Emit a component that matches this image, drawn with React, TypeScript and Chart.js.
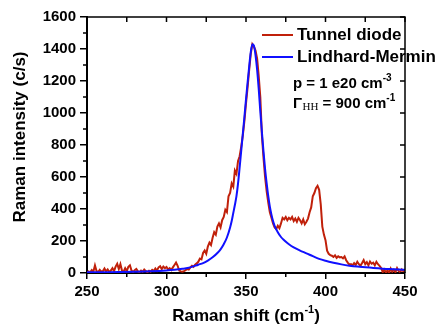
import { useEffect, useRef } from 'react';
import { Chart, registerables } from 'chart.js';

Chart.register(...registerables);

// ---- Data ----
const redShift = [
  250, 251, 252, 253, 254, 255, 256, 257, 258, 259,
  260, 261, 262, 263, 264, 265, 266, 267, 268, 269,
  270, 271, 272, 273, 274, 275, 276, 277, 278, 279,
  280, 281, 282, 283, 284, 285, 286, 287, 288, 289,
  290, 291, 292, 293, 294, 295, 296, 297, 298, 299,
  300, 301, 302, 303, 304, 305, 306, 307, 308, 309,
  310, 311, 312, 313, 314, 315, 316, 317, 318, 319,
  320, 321, 322, 323, 324, 325, 326, 327, 328, 329,
  330, 331, 332, 333, 334, 335, 336, 337, 338, 339,
  340, 341, 342, 343, 344, 345, 346, 347, 348, 349,
  350, 351, 352, 353, 354, 355, 356, 357, 358, 359,
  360, 361, 362, 363, 364, 365, 366, 367, 368, 369,
  370, 371, 372, 373, 374, 375, 376, 377, 378, 379,
  380, 381, 382, 383, 384, 385, 386, 387, 388, 389,
  390, 391, 392, 393, 394, 395, 396, 397, 398, 399,
  400, 401, 402, 403, 404, 405, 406, 407, 408, 409,
  410, 411, 412, 413, 414, 415, 416, 417, 418, 419,
  420, 421, 422, 423, 424, 425, 426, 427, 428, 429,
  430, 431, 432, 433, 434, 435, 436, 437, 438, 439,
  440, 441, 442, 443, 444, 445, 446, 447, 448, 449,
  450,
];

const redIntensity = [
  5, 10, 4, 18, 8, 48, 12, 6, 20, 8,
  12, 28, 10, 22, 6, 15, 30, 12, 40, 58,
  25, 55, 15, 8, 30, 12, 38, 48, 15, 6,
  18, 25, 10, 5, 15, 8, 22, 12, 5, 14,
  8, 20, 12, 28, 15, 35, 42, 25, 40, 30,
  38, 22, 30, 18, 35, 50, 65, 45, 15, 10,
  8, 12, 18, 25, 22, 35, 45, 38, 52, 60,
  70, 90, 85, 125, 140, 120, 165, 190, 175, 220,
  255, 240, 290, 310, 285, 330, 350, 395, 380, 480,
  500, 560, 540, 640, 620, 700, 730, 790, 860, 950,
  1060, 1160, 1270, 1370, 1430, 1415, 1390, 1340, 1230, 1100,
  860, 720, 600, 510, 440, 380, 345, 310, 285, 275,
  295, 280, 310, 345, 335, 350, 330, 345, 335, 350,
  325, 340, 320, 345, 330, 310, 335, 305, 320, 340,
  380, 410, 480, 500, 530, 545, 520, 430, 290, 240,
  205, 140, 120, 112, 108, 100, 110, 95, 105, 98,
  100, 92, 104, 80, 65, 52, 55, 48, 62, 50,
  70, 55, 45, 62, 80, 55, 68, 48, 72, 58,
  65, 48, 70, 55, 45, 32, 5, 22, 2, 18,
  0, 28, 8, 20, 5, 30, 12, 6, 22, 10,
  15,
];

const blueShift = [
  250, 260, 270, 280, 290, 300, 305, 310, 315, 320, 323, 326, 329, 332, 334, 336, 338,
  340, 341, 342, 343, 344, 345, 346, 347, 348, 349, 350, 351, 352, 353, 354, 355, 356,
  357, 358, 359, 360, 361, 362, 363, 364, 365, 366, 367, 368, 370, 372, 374, 377, 380,
  384, 388, 392, 396, 400, 405, 410, 415, 420, 430, 440, 450,
];

const blueIntensity = [
  4, 5, 6, 8, 11, 16, 20, 26, 35, 52, 62, 78, 98, 125, 148, 180, 222,
  285, 325, 375, 425, 480, 560, 660, 765, 870, 975, 1085, 1190, 1290, 1380, 1430, 1420, 1360,
  1270, 1150, 1010, 880, 760, 650, 560, 480, 415, 365, 325, 295, 255, 225, 205, 180, 160,
  140, 123, 105, 88, 76, 64, 54, 46, 40, 32, 25, 20,
];

const xTickValues = [250, 300, 350, 400, 450];
const xMinorValues = [275, 325, 375, 425];
const yTickValues = [0, 200, 400, 600, 800, 1000, 1200, 1400, 1600];
const yMinorValues = [100, 300, 500, 700, 900, 1100, 1300, 1500];

const seriesNames = ['Tunnel diode', 'Lindhard-Mermin'];
const RED = '#c0200a';
const BLUE = '#1010ff';
const FONT = '"Liberation Sans", Arial, Helvetica, sans-serif';

const decorPlugin = {
  id: 'decor',
  afterDraw(chart: any) {
    const { ctx, chartArea: a, scales } = chart;
    const xs = scales.x;
    const ys = scales.y;
    ctx.save();
    ctx.strokeStyle = '#000';
    ctx.lineWidth = 1.5;
    // top & right frame
    ctx.beginPath();
    ctx.moveTo(a.left, a.top);
    ctx.lineTo(a.right, a.top);
    ctx.lineTo(a.right, a.bottom);
    ctx.stroke();
    // minor ticks left (outward)
    ctx.beginPath();
    yMinorValues.forEach((v) => {
      const py = ys.getPixelForValue(v);
      ctx.moveTo(a.left - 4, py);
      ctx.lineTo(a.left, py);
    });
    // minor ticks bottom (outward)
    xMinorValues.forEach((v) => {
      const px = xs.getPixelForValue(v);
      ctx.moveTo(px, a.bottom);
      ctx.lineTo(px, a.bottom + 4);
    });
    // top ticks (inward)
    [...xTickValues, ...xMinorValues].forEach((v) => {
      const px = xs.getPixelForValue(v);
      ctx.moveTo(px, a.top);
      ctx.lineTo(px, a.top + 5);
    });
    // right ticks (inward)
    yTickValues.forEach((v) => {
      const py = ys.getPixelForValue(v);
      ctx.moveTo(a.right, py);
      ctx.lineTo(a.right - 5, py);
    });
    ctx.stroke();

    ctx.fillStyle = '#000';
    ctx.textBaseline = 'middle';

    // x axis title with superscript
    const big = `bold 17px ${FONT}`;
    const sup = `bold 11px ${FONT}`;
    const p1 = 'Raman shift (cm';
    const p2 = '-1';
    const p3 = ')';
    ctx.font = big;
    const w1 = ctx.measureText(p1).width;
    const w3 = ctx.measureText(p3).width;
    ctx.font = sup;
    const w2 = ctx.measureText(p2).width;
    const total = w1 + w2 + w3;
    const cx = (a.left + a.right) / 2;
    let sx = cx - total / 2;
    const ty = 316;
    ctx.textAlign = 'left';
    ctx.font = big;
    ctx.fillText(p1, sx, ty);
    sx += w1;
    ctx.font = sup;
    ctx.fillText(p2, sx, ty - 6);
    sx += w2;
    ctx.font = big;
    ctx.fillText(p3, sx, ty);

    // y axis title
    ctx.save();
    ctx.translate(20, 137);
    ctx.rotate(-Math.PI / 2);
    ctx.textAlign = 'center';
    ctx.font = big;
    ctx.fillText('Raman intensity (c/s)', 0, 0);
    ctx.restore();

    // legend
    const legendItems = [
      { name: seriesNames[0], color: RED, y: 35, w: 2 },
      { name: seriesNames[1], color: BLUE, y: 57, w: 2 },
    ];
    legendItems.forEach((it) => {
      ctx.strokeStyle = it.color;
      ctx.lineWidth = it.w;
      ctx.beginPath();
      ctx.moveTo(262, it.y);
      ctx.lineTo(293, it.y);
      ctx.stroke();
      ctx.font = `bold 17px ${FONT}`;
      ctx.fillStyle = '#000';
      ctx.textAlign = 'left';
      ctx.fillText(it.name, 297, it.y);
    });

    // annotations
    const ann = `bold 15px ${FONT}`;
    const annSup = `bold 10px ${FONT}`;
    let ax = 293;
    ctx.font = ann;
    const l1 = 'p = 1 e20 cm';
    ctx.fillText(l1, ax, 84);
    ax += ctx.measureText(l1).width;
    ctx.font = annSup;
    ctx.fillText('-3', ax, 78);

    ax = 293;
    const ly = 104;
    ctx.font = ann;
    ctx.fillText('\u0393', ax, ly);
    ax += ctx.measureText('\u0393').width + 0.5;
    ctx.font = `11px "Liberation Serif", "Times New Roman", serif`;
    ctx.fillText('HH', ax, ly + 3);
    ax += ctx.measureText('HH').width;
    ctx.font = ann;
    const l2 = ' = 900 cm';
    ctx.fillText(l2, ax, ly);
    ax += ctx.measureText(l2).width;
    ctx.font = annSup;
    ctx.fillText('-1', ax, ly - 6);

    ctx.restore();
  },
};

export default function App() {
  const ref = useRef<HTMLCanvasElement | null>(null);

  useEffect(() => {
    document.body.style.margin = '0';
    const canvas = ref.current;
    if (!canvas) return;
    const chart = new Chart(canvas, {
      type: 'line',
      data: {
        datasets: [
          {
            label: seriesNames[0],
            data: redShift.map((x, i) => ({ x, y: redIntensity[i] })),
            borderColor: RED,
            borderWidth: 2,
            pointRadius: 0,
            tension: 0,
            fill: false,
            order: 1,
          },
          {
            label: seriesNames[1],
            data: blueShift.map((x, i) => ({ x, y: blueIntensity[i] })),
            borderColor: BLUE,
            borderWidth: 2,
            pointRadius: 0,
            cubicInterpolationMode: 'monotone',
            fill: false,
            order: 0,
          },
        ],
      },
      options: {
        responsive: false,
        maintainAspectRatio: false,
        animation: false,
        events: [],
        layout: { padding: { left: 0, right: 30, top: 17, bottom: 0 } },
        plugins: {
          legend: { display: false },
          tooltip: { enabled: false },
          title: { display: false },
        },
        scales: {
          x: {
            type: 'linear',
            min: 250,
            max: 450,
            afterFit: (s: any) => {
              s.height = 55;
            },
            afterBuildTicks: (s: any) => {
              s.ticks = xTickValues.map((v) => ({ value: v }));
            },
            ticks: {
              color: '#000',
              font: { family: FONT, size: 15, weight: 'bold' },
              padding: 4,
              maxRotation: 0,
              callback: (v: any) => String(v),
            },
            grid: {
              display: true,
              drawOnChartArea: false,
              drawTicks: true,
              tickLength: 6,
              color: '#000',
              lineWidth: 1.5,
            },
            border: { display: true, color: '#000', width: 2 },
          },
          y: {
            type: 'linear',
            min: 0,
            max: 1600,
            afterFit: (s: any) => {
              s.width = 87;
            },
            afterBuildTicks: (s: any) => {
              s.ticks = yTickValues.map((v) => ({ value: v }));
            },
            ticks: {
              color: '#000',
              font: { family: FONT, size: 15, weight: 'bold' },
              padding: 4,
              callback: (v: any) => String(v),
            },
            grid: {
              display: true,
              drawOnChartArea: false,
              drawTicks: true,
              tickLength: 7,
              color: '#000',
              lineWidth: 1.5,
            },
            border: { display: true, color: '#000', width: 2 },
          },
        },
      },
      plugins: [decorPlugin],
    } as any);
    return () => chart.destroy();
  }, []);

  return <canvas ref={ref} width={435} height={328} style={{ display: 'block', width: 435, height: 328 }} />;
}
